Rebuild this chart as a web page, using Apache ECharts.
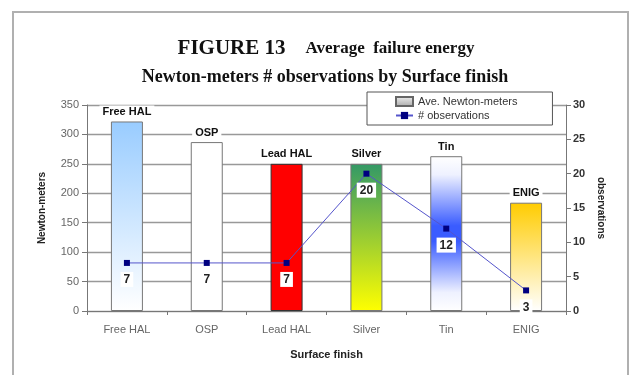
<!DOCTYPE html>
<html>
<head>
<meta charset="utf-8">
<script src="https://cdn.jsdelivr.net/npm/echarts@6/dist/echarts.min.js"></script>
<style>
  html, body { margin: 0; padding: 0; background: #fff; }
  #chart { width: 630px; height: 375px; }
</style>
</head>
<body>
<div id="chart"></div>
<script>
// Surface finishes on the category axis
const categories = ['Free HAL', 'OSP', 'Lead HAL', 'Silver', 'Tin', 'ENIG'];
// Average failure energy, Newton-meters (left axis)
const newtonMeters = [322, 287, 250, 250, 263, 184];
// Number of observations (right axis)
const observations = [7, 7, 7, 20, 12, 3];
// Axis ranges
const leftAxis = { min: 0, max: 350, interval: 50 };
const rightAxis = { min: 0, max: 30, interval: 5 };

const SANS = '"Liberation Sans", Arial, sans-serif';
const SERIF = '"Liberation Serif", "Times New Roman", serif';

function vgrad(stops) {
  return new echarts.graphic.LinearGradient(0, 0, 0, 1,
    stops.map(([o, c]) => ({ offset: o, color: c })));
}

// Fill for each finish
const barFills = [
  vgrad([[0, '#99ccff'], [1, '#ffffff']]),
  '#ffffff',
  '#ff0000',
  vgrad([[0, '#339966'], [1, '#ffff00']]),
  vgrad([[0, '#ffffff'], [0.12, '#eef1ff'], [0.45, '#3a5cff'], [0.55, '#3a5cff'],
         [0.88, '#eef1ff'], [1, '#ffffff']]),
  vgrad([[0, '#ffcc00'], [1, '#ffffff']])
];

const chart = echarts.init(document.getElementById('chart'), null, { renderer: 'canvas' });

chart.setOption({
  backgroundColor: '#ffffff',
  animation: false,
  title: [
    {
      text: '{a|FIGURE 13}    {b|Average  failure energy}',
      left: 321, top: 33, textAlign: 'center',
      textStyle: {
        rich: {
          a: { fontFamily: SERIF, fontWeight: 'bold', fontSize: 21, color: '#111' },
          b: { fontFamily: SERIF, fontWeight: 'bold', fontSize: 17, color: '#111' }
        }
      }
    },
    {
      text: 'Newton-meters # observations by Surface finish',
      left: 320, top: 63, textAlign: 'center',
      textStyle: { fontFamily: SERIF, fontWeight: 'bold', fontSize: 18, color: '#111' }
    }
  ],
  graphic: [
    {
      type: 'rect', silent: true, z: -1,
      shape: { x: 13, y: 12, width: 615, height: 380 },
      style: { fill: 'none', stroke: '#b0b0b0', lineWidth: 2 }
    }
  ],
  legend: {
    orient: 'vertical',
    left: 367, top: 92,
    width: 185,
    padding: [4, 35, 4, 28],
    itemGap: 3,
    itemWidth: 17, itemHeight: 9,
    backgroundColor: '#ffffff',
    borderColor: '#555',
    borderWidth: 1,
    textStyle: { fontFamily: SANS, fontSize: 11, color: '#333' },
    data: [
      { name: 'Ave. Newton-meters', icon: 'rect' },
      { name: '# observations' }
    ]
  },
  grid: { left: 87, right: 64, top: 105, bottom: 64, containLabel: false },
  xAxis: {
    type: 'category',
    data: categories,
    boundaryGap: true,
    name: 'Surface finish',
    nameLocation: 'middle',
    nameGap: 38,
    nameTextStyle: { fontFamily: SANS, fontWeight: 'bold', fontSize: 11, color: '#222' },
    axisLine: { lineStyle: { color: '#777', width: 1 } },
    axisTick: { show: true, alignWithLabel: false, length: 4, lineStyle: { color: '#777' } },
    axisLabel: { fontFamily: SANS, fontSize: 11, color: '#666', margin: 13 }
  },
  yAxis: [
    {
      type: 'value',
      min: leftAxis.min, max: leftAxis.max, interval: leftAxis.interval,
      name: 'Newton-meters',
      nameLocation: 'middle',
      nameGap: 40,
      nameTextStyle: { fontFamily: SANS, fontWeight: 'bold', fontSize: 10, color: '#222' },
      axisLine: { show: true, lineStyle: { color: '#777' } },
      axisTick: { show: true, length: 5, lineStyle: { color: '#777' } },
      axisLabel: { fontFamily: SANS, fontSize: 11, color: '#666', margin: 8 },
      splitLine: { show: true, lineStyle: { color: '#999', width: 1.3 } }
    },
    {
      type: 'value',
      position: 'right',
      min: rightAxis.min, max: rightAxis.max, interval: rightAxis.interval,
      name: 'observations',
      nameLocation: 'middle',
      nameRotate: -90,
      nameGap: 30,
      nameTextStyle: { fontFamily: SANS, fontWeight: 'bold', fontSize: 10, color: '#222' },
      axisLine: { show: true, lineStyle: { color: '#777' } },
      axisTick: { show: true, length: 5, lineStyle: { color: '#777' } },
      axisLabel: { fontFamily: SANS, fontSize: 11, fontWeight: 'bold', color: '#333', margin: 7 },
      splitLine: { show: false }
    }
  ],
  series: [
    {
      name: 'Ave. Newton-meters',
      type: 'bar',
      yAxisIndex: 0,
      barWidth: 32,
      itemStyle: {
        color: vgrad([[0, '#f0f0f0'], [1, '#a8a8a8']]),
        borderColor: '#666',
        borderWidth: 1
      },
      label: {
        show: true,
        position: 'top',
        distance: 3,
        formatter: (p) => p.name,
        fontFamily: SANS, fontWeight: 'bold', fontSize: 11, color: '#111',
        backgroundColor: '#ffffff',
        padding: [1, 3, 1, 3]
      },
      data: newtonMeters.map((v, i) => ({
        value: v,
        itemStyle: { color: barFills[i], borderColor: i === 2 ? '#333' : '#777', borderWidth: 1 }
      })),
      z: 2
    },
    {
      name: '# observations',
      type: 'line',
      yAxisIndex: 1,
      data: observations,
      symbol: 'rect',
      symbolSize: 6,
      lineStyle: { color: '#5555cc', width: 1 },
      itemStyle: { color: '#000080' },
      label: {
        show: true,
        position: 'bottom',
        distance: 6,
        fontFamily: SANS, fontWeight: 'bold', fontSize: 12, color: '#222',
        backgroundColor: '#ffffff',
        padding: [2, 3, 1, 3]
      },
      z: 3
    }
  ]
});
</script>
</body>
</html>
